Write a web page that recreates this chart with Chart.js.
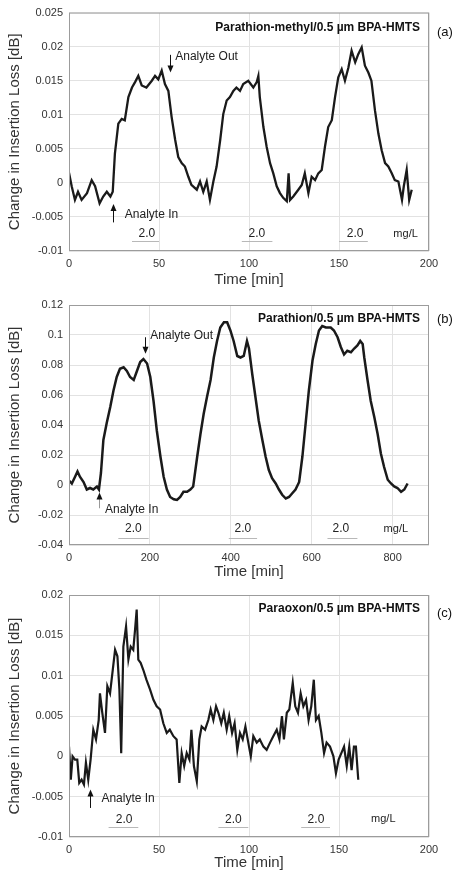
<!DOCTYPE html>
<html>
<head>
<meta charset="utf-8">
<script src="https://cdn.jsdelivr.net/npm/chart.js@4.4.0/dist/chart.umd.min.js"></script>
<style>
  html, body { margin: 0; padding: 0; background: #fff; }
  .panel { position: absolute; left: 0; width: 458px; }
  #pa { top: 0; height: 290px; }
  #pb { top: 290px; height: 290px; }
  #pc { top: 580px; height: 294px; }
</style>
</head>
<body>
<div class="panel" id="pa"><canvas id="chartA"></canvas></div>
<div class="panel" id="pb"><canvas id="chartB"></canvas></div>
<div class="panel" id="pc"><canvas id="chartC"></canvas></div>
<script>
// (a) Parathion-methyl
const timeA = [0,1.5,3.3,5,7,10,12.6,14.5,17,19,21,23,24.3,25.5,27.4,29.3,31,33,35,36.7,38.5,40.4,43,46,47.8,49.6,51.5,53.3,55.2,57,59,60.7,62.6,64.4,66.3,68,71,72.8,74.6,76.5,78.3,80.2,82,84,85.7,87.6,89.4,91.3,93,95,96.8,99.6,102.4,104.3,105.2,106,108,109.8,111.7,113.5,115.4,117.2,119,121,122,122.8,124.6,127.4,129.3,131,133,134.8,136.7,138.5,140.4,142.2,144,146,147.8,149.6,151.5,153.3,155.2,157,159,160.7,162.6,164.4,166.3,168,170,171.9,173.7,175.6,177.4,179.3,181,183,185,186,187.6,189,190.4];
const lossA = [0.0015,-0.0005,-0.0025,-0.0013,-0.0025,-0.0015,0.0004,-0.0005,-0.003,-0.002,-0.0013,-0.002,-0.0013,0.0043,0.0087,0.0094,0.0092,0.0126,0.014,0.0148,0.0157,0.0143,0.014,0.015,0.0157,0.0152,0.0165,0.0145,0.0135,0.0097,0.0063,0.0038,0.0029,0.0024,0.0009,-0.0003,-0.001,0.0002,-0.0013,0.0002,-0.0025,0.0002,0.0024,0.0063,0.0101,0.0121,0.0126,0.0135,0.014,0.0135,0.0145,0.015,0.014,0.0148,0.0157,0.0126,0.0082,0.0053,0.0029,0.0014,-0.0005,-0.0015,-0.0022,-0.0027,0.0014,-0.0025,-0.002,-0.001,-0.0003,0.0014,-0.0015,0.0009,0.0004,0.0014,0.0019,0.0053,0.0082,0.0092,0.0126,0.0155,0.0167,0.015,0.0169,0.0194,0.0177,0.0189,0.0199,0.0172,0.0162,0.015,0.0106,0.0072,0.0048,0.0029,0.0024,0.0014,0.0004,0.0002,-0.0025,-0.0005,0.0019,-0.0025,-0.001];

// (b) Parathion
const timeB = [0,7,15,21,27,36,44,52,60,69,74,79,85,93,102,110,118,126,135,143,151,160,168,176,184,193,201,209,217,226,234,242,250,259,267,275,283,292,300,307,317,325,333,341,350,358,366,374,383,391,399,407,416,424,432,440,445,453,461,469,478,486,494,502,511,519,527,536,544,552,560,569,577,585,593,602,610,618,626,635,647,655,664,672,680,688,697,705,713,720,726,730,738,746,755,763,771,779,788,796,804,812,821,829,837];
const lossB = [0.003,0.001,0.0055,0.009,0.0055,0.002,-0.003,-0.002,-0.003,-0.001,-0.003,0.008,0.030,0.041,0.052,0.063,0.072,0.0775,0.0785,0.076,0.072,0.070,0.076,0.082,0.084,0.081,0.072,0.056,0.0365,0.019,0.0055,-0.003,-0.008,-0.0095,-0.010,-0.008,-0.0045,-0.0045,-0.003,-0.001,0.019,0.034,0.0475,0.0585,0.070,0.085,0.096,0.105,0.1085,0.1085,0.103,0.096,0.086,0.085,0.086,0.096,0.091,0.074,0.0585,0.043,0.030,0.019,0.010,0.0045,0.001,-0.003,-0.0065,-0.009,-0.008,-0.0055,-0.003,0.002,0.019,0.041,0.063,0.083,0.094,0.103,0.106,0.105,0.105,0.103,0.0985,0.092,0.087,0.0895,0.0885,0.091,0.093,0.096,0.094,0.085,0.070,0.056,0.045,0.034,0.021,0.012,0.0035,0.001,-0.001,-0.002,-0.0045,-0.003,0.001];

// (c) Paraoxon
const timeC = [0,1,2,3.3,4.6,5.7,7,8.3,9.4,10.7,12,13.5,15,16.5,17.2,18.5,20,21.3,22.8,24.3,25.6,26.9,28,29,30.2,31.7,33,34.3,35.7,36.7,37.6,38.5,39.8,41.3,43,45,46.9,48.7,50.6,52.4,54.3,56,58,59.8,61.3,62.6,64,65.4,66.9,68,69.4,71,72.4,73.7,75.6,77.4,78.7,80.2,81.7,83,84.6,86,87.6,89,90.6,92,93.5,95,96.5,98,99.6,101,102.4,104.3,106,108,109.8,111.7,113.5,115.4,116.9,118.3,119.4,121,122.4,124.3,125.7,127.2,128.7,130.2,131.7,133.1,134.6,136,137.2,138.7,140.2,141.7,143.1,145,146.9,148.3,149.8,151.3,152.8,154.3,155.7,157,158.3,159.4,160.7];
const lossC = [0.0012,-0.0029,0,-0.0004,-0.0004,-0.0033,-0.0029,-0.0035,-0.0008,-0.0029,-0.0004,0.0033,0.0021,0.0045,0.0078,0.0054,0.0029,0.0087,0.0078,0.0107,0.0132,0.0124,0.0083,0.0004,0.0136,0.0161,0.012,0.0136,0.0132,0.0157,0.0182,0.012,0.0116,0.0107,0.0095,0.0083,0.007,0.0062,0.0058,0.0041,0.0029,0.0033,0.0025,0.0021,-0.0033,0.0004,-0.0012,0.0004,-0.0004,0.0033,-0.0012,-0.0031,0.0021,0.0037,0.0033,0.0045,0.0058,0.0045,0.0062,0.0054,0.0041,0.0054,0.0033,0.005,0.0029,0.0041,0.0008,0.0029,0.0021,0.0037,0.0017,0,0.0025,0.0017,0.0021,0.0012,0.0008,0.0017,0.0025,0.0033,0.0021,0.005,0.0021,0.0054,0.0058,0.0091,0.0062,0.0054,0.0078,0.0062,0.007,0.0045,0.0062,0.0095,0.0045,0.005,0.0029,0.0004,0.0017,0.0012,0,-0.0021,-0.0004,0.0004,0.0012,-0.0012,0.0012,-0.0017,0.0012,0.0012,-0.0029];

const FONT = '"Liberation Sans", Arial, sans-serif';

// frame, sample title, arrows and dose marks
const panelNotes = {
  id: 'panelNotes',
  afterDraw(chart, args, opts) {
    const {ctx, chartArea: a, scales: {x, y}} = chart;
    ctx.save();
    ctx.strokeStyle = '#9c9c9c';
    ctx.lineWidth = 1;
    ctx.strokeRect(a.left + 0.5, a.top + 0.5, a.width - 1, a.height - 1);

    ctx.fillStyle = '#111';
    ctx.textBaseline = 'middle';
    ctx.font = 'bold 12px ' + FONT;
    ctx.textAlign = 'right';
    ctx.fillText(opts.title, a.right - 9, a.top + opts.titleDy);
    ctx.font = '13px ' + FONT;
    ctx.textAlign = 'left';
    ctx.fillText(opts.tag, a.right + 8, a.top + opts.tagDy);

    ctx.font = '12px ' + FONT;
    opts.arrows.forEach(ar => {
      const px = Math.round(x.getPixelForValue(ar.t)) + 0.5;
      const y1 = y.getPixelForValue(ar.from);
      const y2 = y.getPixelForValue(ar.to);
      const dir = y2 > y1 ? 1 : -1;
      ctx.strokeStyle = ar.color || '#111';
      ctx.lineWidth = 1;
      ctx.beginPath();
      ctx.moveTo(px, y1);
      ctx.lineTo(px, y2 - dir * 5);
      ctx.stroke();
      ctx.fillStyle = '#111';
      ctx.beginPath();
      ctx.moveTo(px, y2);
      ctx.lineTo(px - 3, y2 - dir * 7);
      ctx.lineTo(px + 3, y2 - dir * 7);
      ctx.closePath();
      ctx.fill();
      ctx.fillStyle = '#222';
      ctx.fillText(ar.text, x.getPixelForValue(ar.textT), y.getPixelForValue(ar.textV));
    });

    opts.doses.forEach(d => {
      const cx = x.getPixelForValue(d.t);
      const ty = y.getPixelForValue(d.v);
      ctx.fillStyle = '#222';
      ctx.textAlign = 'center';
      ctx.font = '12px ' + FONT;
      ctx.fillText(d.label, cx, ty);
      ctx.strokeStyle = '#b8b8b8';
      ctx.lineWidth = 1;
      const ly = Math.round(y.getPixelForValue(d.lineV)) + 0.5;
      ctx.beginPath();
      ctx.moveTo(x.getPixelForValue(d.from), ly);
      ctx.lineTo(x.getPixelForValue(d.to), ly);
      ctx.stroke();
    });
    ctx.font = '11px ' + FONT;
    ctx.textAlign = 'center';
    ctx.fillStyle = '#222';
    ctx.fillText('mg/L', x.getPixelForValue(opts.unit.t), y.getPixelForValue(opts.unit.v));
    ctx.restore();
  }
};

function tickText(v) {
  const n = Number(v.toFixed(4));
  return n === 0 ? '0' : String(n);
}

function makePanel(id, times, losses, ax, notes) {
  const h = document.getElementById(id).parentNode.clientHeight;
  return new Chart(document.getElementById(id), {
    type: 'line',
    data: {
      datasets: [{
        data: times.map((t, i) => ({x: t, y: losses[i]})),
        borderColor: '#1a1a1a',
        borderWidth: ax.lw,
        pointRadius: 0,
        tension: 0,
        fill: false
      }]
    },
    plugins: [panelNotes],
    options: {
      responsive: true,
      maintainAspectRatio: false,
      animation: false,
      layout: { padding: { top: ax.top, right: 29, bottom: 0, left: 0 } },
      plugins: {
        legend: { display: false },
        tooltip: { enabled: false },
        panelNotes: notes
      },
      scales: {
        x: {
          type: 'linear',
          min: ax.xmin, max: ax.xmax,
          afterFit: s => { s.height = h - ax.bottom; },
          afterBuildTicks: s => { s.ticks = s.ticks.filter(t => t.value % ax.xstep === 0); },
          ticks: { stepSize: ax.xstep, padding: 6, color: '#333', font: { family: FONT, size: 11 } },
          grid: { color: '#e2e2e2', drawTicks: false },
          border: { display: false },
          title: { display: true, text: 'Time [min]', color: '#333', padding: { top: 0, bottom: ax.tpad }, font: { family: FONT, size: 15 } }
        },
        y: {
          min: ax.ymin, max: ax.ymax,
          afterFit: s => { s.width = 69; },
          ticks: { stepSize: ax.ystep, padding: 6, color: '#333', callback: tickText, font: { family: FONT, size: 11 } },
          grid: { color: '#e2e2e2', drawTicks: false },
          border: { display: false },
          title: { display: true, text: 'Change in Insertion Loss [dB]', color: '#333', padding: { top: 6, bottom: 0 }, font: { family: FONT, size: 15 } }
        }
      }
    }
  });
}

makePanel('chartA', timeA, lossA,
  { xmin: 0, xmax: 200, xstep: 50, ymin: -0.01, ymax: 0.025, ystep: 0.005, top: 10, bottom: 251, tpad: 1, lw: 2.3 },
  {
    title: 'Parathion-methyl/0.5 µm BPA-HMTS', titleDy: 15, tag: '(a)', tagDy: 20,
    arrows: [
      { t: 56, from: 0.0188, to: 0.0162, text: 'Analyte Out', textT: 59, textV: 0.0185 },
      { t: 24.6, from: -0.0058, to: -0.0031, text: 'Analyte In', textT: 31, textV: -0.0047 }
    ],
    doses: [
      { label: '2.0', t: 43.3, v: -0.0075, lineV: -0.0086, from: 35, to: 50 },
      { label: '2.0', t: 104.4, v: -0.0075, lineV: -0.0086, from: 96, to: 113 },
      { label: '2.0', t: 159, v: -0.0075, lineV: -0.0086, from: 150, to: 166 }
    ],
    unit: { t: 187, v: -0.0075 }
  });

makePanel('chartB', timeB, lossB,
  { xmin: 0, xmax: 890, xstep: 200, ymin: -0.04, ymax: 0.12, ystep: 0.02, top: 15, bottom: 255, tpad: -1, lw: 2.5 },
  {
    title: 'Parathion/0.5 µm BPA-HMTS', titleDy: 14, tag: '(b)', tagDy: 14,
    arrows: [
      { t: 188, from: 0.0985, to: 0.0875, text: 'Analyte Out', textT: 201, textV: 0.0996 },
      { t: 73, from: -0.0155, to: -0.005, text: 'Analyte In', textT: 89, textV: -0.0166, color: '#999' }
    ],
    doses: [
      { label: '2.0', t: 159, v: -0.0294, lineV: -0.0354, from: 122, to: 197 },
      { label: '2.0', t: 430, v: -0.0294, lineV: -0.0354, from: 395, to: 465 },
      { label: '2.0', t: 672, v: -0.0294, lineV: -0.0354, from: 639, to: 713 }
    ],
    unit: { t: 808, v: -0.0294 }
  });

makePanel('chartC', timeC, lossC,
  { xmin: 0, xmax: 200, xstep: 50, ymin: -0.01, ymax: 0.02, ystep: 0.005, top: 15, bottom: 257, tpad: 2, lw: 2.2 },
  {
    title: 'Paraoxon/0.5 µm BPA-HMTS', titleDy: 14, tag: '(c)', tagDy: 18,
    arrows: [
      { t: 11.7, from: -0.0064, to: -0.0041, text: 'Analyte In', textT: 18, textV: -0.0053 }
    ],
    doses: [
      { label: '2.0', t: 30.6, v: -0.0078, lineV: -0.0088, from: 22, to: 38.5 },
      { label: '2.0', t: 91.3, v: -0.0078, lineV: -0.0088, from: 83, to: 99.6 },
      { label: '2.0', t: 137.2, v: -0.0078, lineV: -0.0088, from: 129, to: 145 }
    ],
    unit: { t: 174.6, v: -0.0078 }
  });
</script>
</body>
</html>
